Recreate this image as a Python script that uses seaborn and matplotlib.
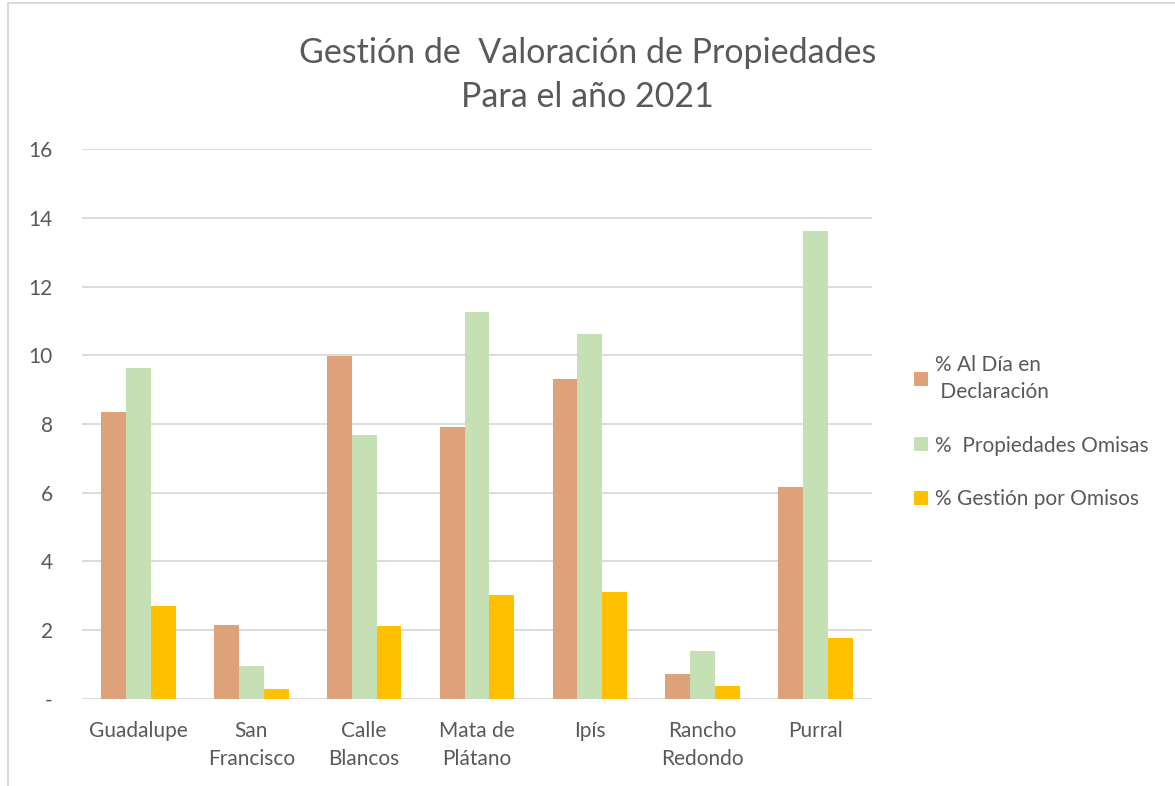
import pandas as pd
import seaborn as sns
import matplotlib.pyplot as plt
from matplotlib.patches import Rectangle, Patch

# ---------- datos ----------
distritos = ['Guadalupe', 'San\nFrancisco', 'Calle\nBlancos', 'Mata de\nPlátano',
             'Ipís', 'Rancho\nRedondo', 'Purral']
al_dia      = [8.36, 2.15, 9.97, 7.92, 9.32, 0.73, 6.18]
omisas      = [9.64, 0.95, 7.67, 11.25, 10.63, 1.39, 13.62]
gestion     = [2.70, 0.28, 2.11, 3.02, 3.12, 0.37, 1.76]
series      = ['% Al Día en\n Declaración', '%  Propiedades Omisas', '% Gestión por Omisos']
colores     = ['#DEA27A', '#C5E0B4', '#FFC000']
yticks      = [0, 2, 4, 6, 8, 10, 12, 14, 16]
ytick_labels = ['-', '2', '4', '6', '8', '10', '12', '14', '16']

df = pd.DataFrame({'Distrito': distritos * 3,
                   'Serie': [series[0]] * 7 + [series[1]] * 7 + [series[2]] * 7,
                   'Valor': al_dia + omisas + gestion})

# ---------- estilo ----------
sns.set_theme(style='white')
plt.rcParams['font.family'] = ['Lato', 'DejaVu Sans']
GRIS = '#595959'

fig = plt.figure(figsize=(11.75, 7.86), dpi=100)
ax = fig.add_axes([0.0698, 0.1107, 0.6722, 0.6997])

sns.barplot(data=df, x='Distrito', y='Valor', hue='Serie', palette=colores,
            width=0.66, saturation=1, linewidth=0, ax=ax, legend=False)

ax.set_ylim(0, 16)
ax.set_yticks(yticks)
ax.set_yticklabels(ytick_labels)
ax.set_xlim(-0.5, len(distritos) - 0.5)
ax.grid(axis='y', color='#D9D9D9', linewidth=1.3)
ax.set_axisbelow(True)
for s in ax.spines.values():
    s.set_visible(False)
ax.set_xlabel('')
ax.set_ylabel('')
ax.tick_params(axis='both', length=0, labelsize=15, colors=GRIS)
ax.tick_params(axis='y', pad=21)
ax.tick_params(axis='x', pad=16)
for lbl in ax.get_xticklabels():
    lbl.set_linespacing(1.5)
for lbl in ax.get_yticklabels():
    lbl.set_horizontalalignment('right')

fig.text(0.5, 0.905, 'Gestión de  Valoración de Propiedades\nPara el año 2021',
         ha='center', va='center', fontsize=24.5, color=GRIS, linespacing=1.45)

handles = [Patch(facecolor=c, edgecolor='none') for c in colores]
leg = fig.legend(handles, series, loc='upper left', bbox_to_anchor=(0.762, 0.572),
                 frameon=False, fontsize=15, labelspacing=1.6, handlelength=0.65,
                 handleheight=0.65, handletextpad=0.35, labelcolor=GRIS)
leg.get_texts()[0].set_linespacing(1.45)

# marco exterior del gráfico
fig.add_artist(Rectangle((0.007, -0.1), 1.2, 1.096, transform=fig.transFigure,
                         fill=False, edgecolor='#D9D9D9', linewidth=1.5))

fig.savefig('out.png', dpi=100)
